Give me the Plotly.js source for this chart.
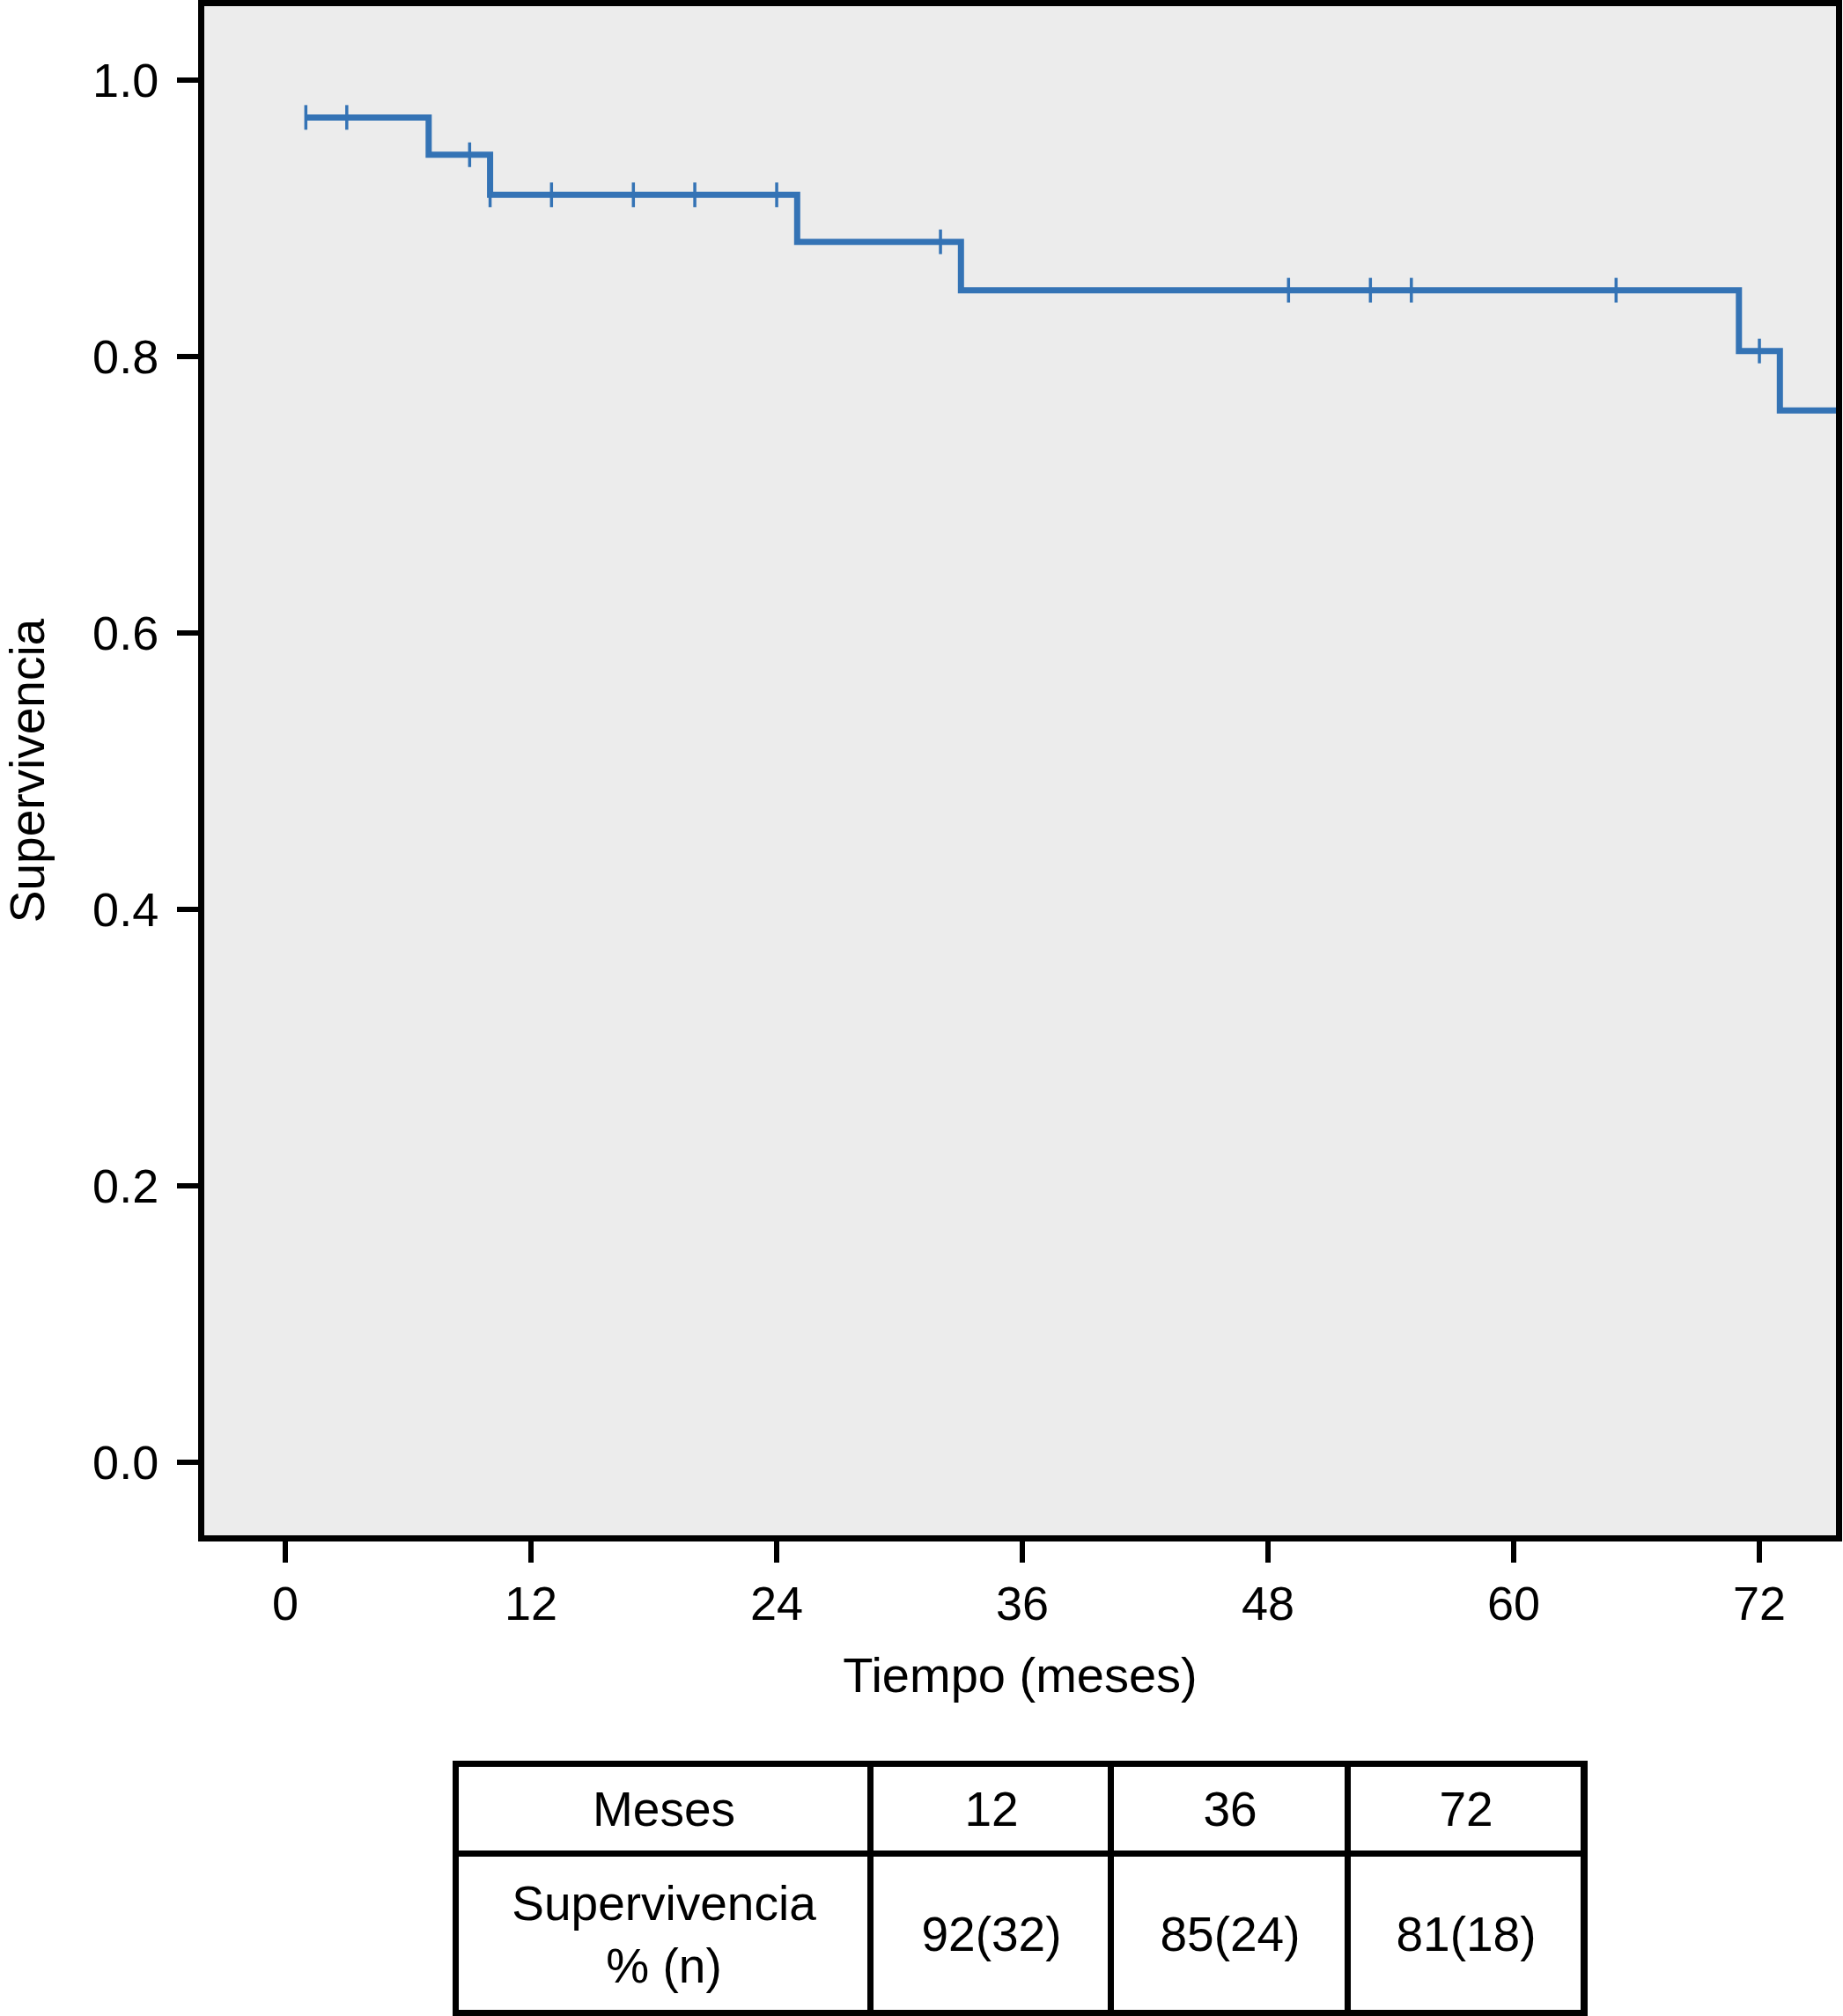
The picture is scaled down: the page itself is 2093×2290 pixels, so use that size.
<!DOCTYPE html>
<html>
<head>
<meta charset="utf-8">
<script src="https://cdn.plot.ly/plotly-3.0.1.min.js"></script>
<style>html,body{margin:0;padding:0;background:#fff;}#chart{width:2093px;height:2290px;}</style>
</head>
<body>
<div id="chart"></div>
<script>
// Kaplan-Meier step curve
var stepTimes = [1, 7, 10, 25, 33, 71, 73, 76];
var stepSurvival = [0.973, 0.946, 0.917, 0.883, 0.848, 0.804, 0.761, 0.761];
// censored observations (months)
var censorTimes = [1, 3, 9, 10, 13, 17, 20, 24, 32, 49, 53, 55, 65, 72];
// axis ticks
var xTicks = [0, 12, 24, 36, 48, 60, 72];
var yTicks = [0.0, 0.2, 0.4, 0.6, 0.8, 1.0];
var yTickLabels = ['0.0', '0.2', '0.4', '0.6', '0.8', '1.0'];
// summary table
var tableHeader = ['Meses', '12', '36', '72'];
var tableRowLabel = 'Supervivencia<br>% (n)';
var tableValues = ['92(32)', '85(24)', '81(18)'];

function survivalAt(t) {
  var s = stepSurvival[0];
  for (var i = 0; i < stepTimes.length; i++) {
    if (stepTimes[i] <= t) s = stepSurvival[i];
  }
  return s;
}
var censorSurvival = censorTimes.map(survivalAt);

var W = 2093, H = 2290;
var FONT = 'Liberation Sans, Arial, Helvetica, sans-serif';
var BLUE = '#3473b5';

// table layout (pixel geometry, not data)
var colEdges = [0, 471, 744, 1013, 1281];
var rowEdges = [0, 181, 283];
var tableText = [[tableRowLabel].concat(tableValues), tableHeader.slice()];
var tableZ = tableText.map(function (r) { return r.map(function () { return 0; }); });

var traces = [
  {
    type: 'scatter', mode: 'lines',
    x: stepTimes, y: stepSurvival,
    line: {shape: 'hv', color: BLUE, width: 7},
    hoverinfo: 'skip', showlegend: false
  },
  {
    type: 'scatter', mode: 'markers',
    x: censorTimes, y: censorSurvival,
    marker: {symbol: 'line-ns-open', size: 20, color: BLUE, line: {color: BLUE, width: 3.5}},
    hoverinfo: 'skip', showlegend: false
  },
  {
    type: 'heatmap', xaxis: 'x2', yaxis: 'y2',
    x: colEdges, y: rowEdges, z: tableZ,
    colorscale: [[0, '#000000'], [1, '#000000']], showscale: false,
    hoverinfo: 'skip'
  },
  {
    type: 'heatmap', xaxis: 'x2', yaxis: 'y2',
    x: colEdges, y: rowEdges, z: tableZ,
    text: tableText, texttemplate: '%{text}',
    textfont: {family: FONT, size: 55, color: '#000000'},
    colorscale: [[0, '#ffffff'], [1, '#ffffff']], showscale: false,
    xgap: 7, ygap: 7,
    hoverinfo: 'skip'
  }
];

var layout = {
  width: W, height: H,
  margin: {l: 0, r: 0, t: 0, b: 0, pad: 0},
  paper_bgcolor: '#ffffff',
  plot_bgcolor: '#ececec',
  font: {family: FONT, size: 54, color: '#000000'},
  xaxis: {
    domain: [232 / W, 2085 / W],
    range: [-3.96, 75.74],
    tickvals: xTicks,
    ticktext: xTicks.map(String),
    ticks: 'outside', ticklen: 24, tickwidth: 6, tickcolor: '#000000',
    showline: true, linewidth: 7, linecolor: '#000000', mirror: true,
    showgrid: false, zeroline: false,
    tickfont: {family: FONT, size: 54, color: '#000000'},
    title: {text: 'Tiempo (meses)', font: {family: FONT, size: 56, color: '#000000'}, standoff: 36},
    automargin: false
  },
  yaxis: {
    domain: [(H - 1744) / H, (H - 7) / H],
    range: [-0.0529, 1.0535],
    tickvals: yTicks,
    ticktext: yTickLabels,
    ticks: 'outside', ticklen: 24, tickwidth: 6, tickcolor: '#000000',
    showline: true, linewidth: 7, linecolor: '#000000', mirror: true,
    showgrid: false, zeroline: false,
    tickfont: {family: FONT, size: 54, color: '#000000'},
    ticklabelstandoff: 10,
    title: {text: 'Supervivencia', font: {family: FONT, size: 55, color: '#000000'}, standoff: 42},
    automargin: false
  },
  xaxis2: {
    domain: [518 / W, 1799 / W],
    range: [0, 1281],
    showticklabels: false, ticks: '', showgrid: false, zeroline: false,
    showline: true, linewidth: 4, linecolor: '#000000', mirror: true,
    anchor: 'y2', fixedrange: true
  },
  yaxis2: {
    domain: [(H - 2287) / H, (H - 2004) / H],
    range: [0, 283],
    showticklabels: false, ticks: '', showgrid: false, zeroline: false,
    showline: true, linewidth: 4, linecolor: '#000000', mirror: true,
    anchor: 'x2', fixedrange: true
  }
};

Plotly.newPlot('chart', traces, layout, {displayModeBar: false, staticPlot: true});
</script>
</body>
</html>
